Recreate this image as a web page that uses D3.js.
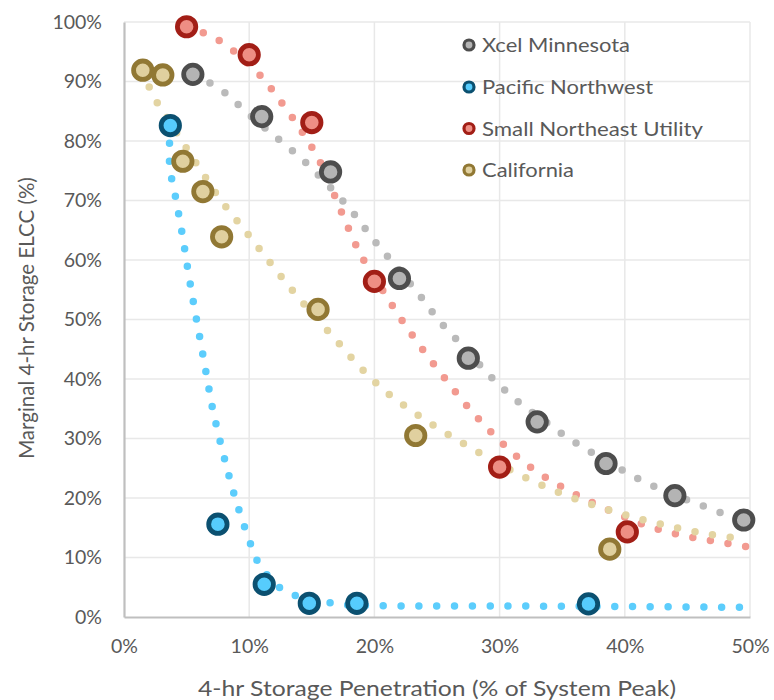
<!DOCTYPE html>
<html><head><meta charset="utf-8">
<script src="https://cdn.jsdelivr.net/npm/d3@7/dist/d3.min.js"></script>
<style>
html,body{margin:0;padding:0;background:#fff;}
svg{display:block;}
text{font-family:Lato,"Open Sans",sans-serif;fill:#595959;}
</style></head>
<body>
<svg id="chart" width="774" height="700"></svg>
<script>
// ---- data (x = storage penetration %, y = marginal ELCC %) ----
const seriesNames = ["Xcel Minnesota","Pacific Northwest","Small Northeast Utility","California"];

const xcelX = [5.5,11,16.5,22,27.5,33,38.5,44,49.5];
const xcelY = [91.2,84.1,74.8,56.9,43.5,32.8,25.8,20.4,16.3];
const pnwX = [3.7,7.5,11.2,14.8,18.6,37.1];
const pnwY = [82.6,15.6,5.5,2.3,2.3,2.2];
const sneX = [5.0,10.0,15.0,20.0,30.0,40.2];
const sneY = [99.2,94.5,83.1,56.4,25.2,14.3];
const calX = [1.5,3.1,4.7,6.3,7.8,15.5,23.3,38.8];
const calY = [91.9,91.1,76.6,71.5,63.9,51.7,30.5,11.4];

// dotted trend curves
const xcelTrendX = [5.6,7.7,9.8,12.0,14.2,16.2,18.2,19.9,21.7,23.6,25.3,27.3,29.2,31.3,33.6,35.9,38.4,40.9,43.5,46.2,49.4];
const xcelTrendY = [91.1,88.7,84.8,80.9,77.0,72.8,68.2,63.5,59.0,54.1,49.5,45.0,40.6,36.5,32.9,29.5,26.4,23.4,20.9,18.7,16.1];
const pnwTrendX = [3.7,3.65,4.17,4.68,5.13,5.61,6.12,6.62,7.15,8.53,9.35,10.31,10.93,12.89,15.71,17.07,19.94,29.93,39.93,49.84];
const pnwTrendY = [82.6,75.9,70.0,64.0,58.0,52.1,46.2,40.3,34.3,22.6,16.9,11.2,8.4,4.3,2.74,2.18,1.90,1.85,1.76,1.63];
const sneTrendX = [5.0,7.44,10.71,12.46,14.17,15.63,17.30,18.48,19.11,20.63,22.19,23.84,25.60,27.38,29.32,31.42,33.73,36.18,38.78,41.44,44.20,47.03,49.78];
const sneTrendY = [99.2,97.1,91.4,86.8,81.7,76.6,68.4,62.7,60.1,55.0,49.9,45.0,40.2,35.5,31.1,26.9,23.4,20.5,17.9,15.6,13.9,12.8,11.8];
const calTrendX = [1.54,2.31,3.09,4.65,6.22,7.79,9.57,11.32,13.13,15.0,16.91,18.80,20.84,23.15,25.57,28.05,30.5,33.09,35.73,38.41,41.2,43.94,46.73,49.52];
const calTrendY = [91.9,87.6,85.1,79.9,74.8,69.9,65.2,60.5,55.7,51.1,46.6,42.1,38.0,34.4,31.1,28.0,25.1,22.4,20.1,18.2,16.5,15.1,13.9,13.1];

const xTicks = [0,10,20,30,40,50];
const yTicks = [0,10,20,30,40,50,60,70,80,90,100];

const markerStroke = ["#4d4d4d","#0b5070","#a21e16","#917834"];
const markerFill   = ["#b4b4b4","#56ccfd","#ee8e84","#e0d09f"];
const dotColor     = ["#bababa","#5ccdfc","#f29a90","#e3d4a2"];
const legendWidths = [148,171,221,92];

// ---- build ----
const svg = d3.select("#chart");
const x = d3.scaleLinear().domain([0,50]).range([124,750]);
const y = d3.scaleLinear().domain([0,100]).range([617,22]);

const zip = (a,b)=>a.map((v,i)=>[v,b[i]]);
const points = [zip(xcelX,xcelY),zip(pnwX,pnwY),zip(sneX,sneY),zip(calX,calY)];
const trends = [zip(xcelTrendX,xcelTrendY),zip(pnwTrendX,pnwTrendY),zip(sneTrendX,sneTrendY),zip(calTrendX,calTrendY)];

// gridlines
const grid = svg.append("g");
grid.selectAll("line.h").data(yTicks.filter(d=>d>0)).join("line")
  .attr("x1",x(0)).attr("x2",x(50)).attr("y1",d=>y(d)).attr("y2",d=>y(d))
  .attr("stroke","#e8e8e8").attr("stroke-width",1.5);
grid.selectAll("line.v").data(xTicks.filter(d=>d>0)).join("line")
  .attr("y1",y(0)).attr("y2",y(100)).attr("x1",d=>x(d)).attr("x2",d=>x(d))
  .attr("stroke","#e8e8e8").attr("stroke-width",1.5);

// axes
const xAxis = svg.append("g").attr("transform",`translate(0,${y(0)})`)
  .call(d3.axisBottom(x).tickValues(xTicks).tickFormat(d=>d+"%").tickSize(0).tickPadding(22));
const yAxis = svg.append("g").attr("transform",`translate(${x(0)},0)`)
  .call(d3.axisLeft(y).tickValues(yTicks).tickFormat(d=>d+"%").tickSize(0).tickPadding(22));
[xAxis,yAxis].forEach(a=>{
  a.select(".domain").attr("stroke","#bfbfbf").attr("stroke-width",2.2);
  a.selectAll("text").style("font-family","Lato, sans-serif").style("font-size","19.5px").attr("fill","#595959");
});

// dotted trend lines
const line = d3.line().x(d=>x(d[0])).y(d=>y(d[1])).curve(d3.curveCatmullRom);
svg.append("g").selectAll("path").data(trends).join("path")
  .attr("d",line).attr("fill","none")
  .attr("stroke",(d,i)=>dotColor[i]).attr("stroke-width",7.5)
  .attr("stroke-linecap","round").attr("stroke-dasharray","0,17.8");

// markers
points.forEach((pts,i)=>{
  svg.append("g").selectAll("circle").data(pts).join("circle")
    .attr("cx",d=>x(d[0])).attr("cy",d=>y(d[1])).attr("r",9.2)
    .attr("fill",markerFill[i]).attr("stroke",markerStroke[i]).attr("stroke-width",4.8);
});

// legend
const leg = svg.append("g");
const legY = [45,87,128.5,170];
seriesNames.forEach((n,i)=>{
  leg.append("circle").attr("cx",469).attr("cy",legY[i]).attr("r",5)
    .attr("fill",markerFill[i]).attr("stroke",markerStroke[i]).attr("stroke-width",3.2);
  leg.append("text").attr("x",482).attr("y",legY[i]).attr("dy","0.35em")
    .attr("textLength",legendWidths[i]).attr("lengthAdjust","spacingAndGlyphs")
    .style("font-size","20px").text(n);
});

// axis titles
svg.append("text").attr("x",437).attr("y",688).attr("dy","0.35em").attr("text-anchor","middle")
  .attr("textLength",478).attr("lengthAdjust","spacingAndGlyphs")
  .style("font-size","22px").text("4-hr Storage Penetration (% of System Peak)");
svg.append("text").attr("transform","translate(27,318) rotate(-90)").attr("dy","0.35em")
  .attr("text-anchor","middle").style("font-size","20.5px").text("Marginal 4-hr Storage ELCC (%)");
</script>
</body></html>
